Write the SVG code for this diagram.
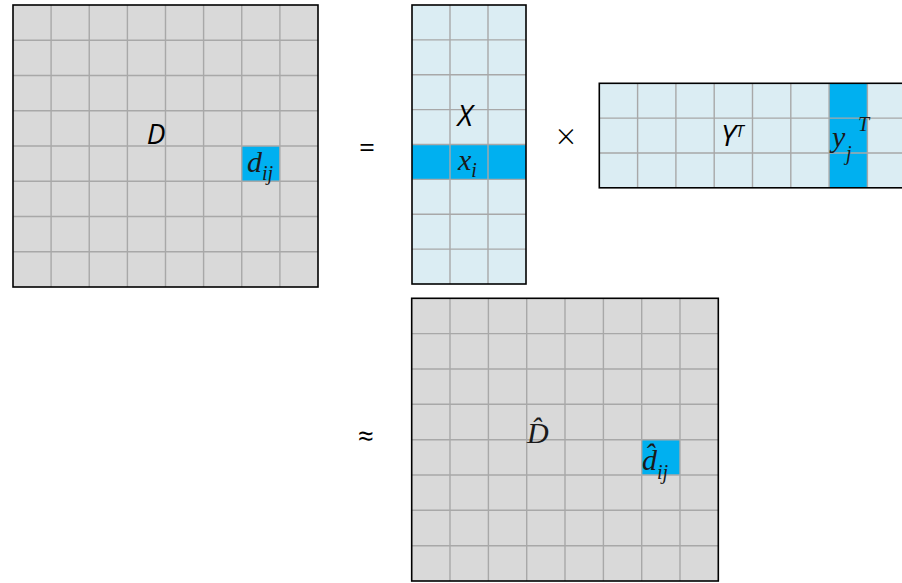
<svg xmlns="http://www.w3.org/2000/svg" width="902" height="583" viewBox="0 0 902 583">
<style>
.bg{fill:#d9d9d9}
.lb{fill:#dbedf3}
.hi{fill:#00b0f0}
.grid{fill:none;stroke:#a8a8a8;stroke-width:1.4}
.frame{fill:none;stroke:#000;stroke-width:1.6}
.lab{font-family:"Open Sans","Liberation Sans",sans-serif;font-style:italic;fill:#000}
.math{font-family:"Liberation Serif","DejaVu Serif",serif;font-style:italic;fill:#1a1a1a}
.op{font-family:"Open Sans","Liberation Sans",sans-serif;fill:#000;text-anchor:middle}
</style>
<rect x="0" y="0" width="902" height="583" fill="#fff"/>

<g id="matrix-D">
<rect class="bg" x="13" y="5" width="305" height="282"/>
<rect class="hi" x="241.75" y="146" width="38.15" height="35.25"/>
<path class="grid" d="M51.1 5V287M89.25 5V287M127.4 5V287M165.5 5V287M203.6 5V287M241.75 5V287M279.9 5V287M13 40.25H318M13 75.5H318M13 110.75H318M13 146H318M13 181.25H318M13 216.5H318M13 251.75H318"/>
<rect class="frame" x="13" y="5" width="305" height="282"/>
<text class="lab" x="156" y="144" font-size="28" text-anchor="middle">D</text>
<text class="math" x="247" y="172" font-size="30">d<tspan font-size="20" dy="8">ij</tspan></text>
</g>

<g id="op-equals"><text class="op" x="367" y="157" font-size="28">=</text></g>

<g id="matrix-X">
<rect class="lb" x="412" y="5" width="114" height="279"/>
<rect class="hi" x="412" y="144.5" width="114" height="34.9"/>
<path class="grid" d="M450 5V284M488 5V284M412 39.9H526M412 74.75H526M412 109.6H526M412 144.5H526M412 179.4H526M412 214.25H526M412 249.1H526"/>
<rect class="frame" x="412" y="5" width="114" height="279"/>
<text class="lab" x="465" y="126" font-size="29" text-anchor="middle">X</text>
<text class="math" x="458" y="170" font-size="30">x<tspan font-size="20" dy="7">i</tspan></text>
</g>

<g id="op-times"><text class="op" x="566" y="149" font-size="34" font-weight="300">×</text></g>

<g id="matrix-YT">
<rect class="lb" x="599.3" y="83.3" width="306.4" height="104.5"/>
<rect class="hi" x="829.1" y="83.3" width="38.3" height="104.5"/>
<path class="grid" d="M637.6 83.3V187.8M675.9 83.3V187.8M714.2 83.3V187.8M752.5 83.3V187.8M790.8 83.3V187.8M829.1 83.3V187.8M867.4 83.3V187.8M599.3 118.1H905.7M599.3 153H905.7"/>
<rect class="frame" x="599.3" y="83.3" width="306.4" height="104.5"/>
<text class="lab" x="721" y="146" font-size="29">Y<tspan font-size="16" dy="-9">T</tspan></text>
<text class="math" x="832" y="147" font-size="30">y</text>
<text class="math" x="846" y="160" font-size="20">j</text>
<text class="math" x="858" y="131" font-size="20">T</text>
</g>

<g id="op-approx"><text class="op" x="366" y="446" font-size="28">≈</text></g>

<g id="matrix-Dhat">
<rect class="bg" x="411.7" y="298.3" width="306.6" height="282.7"/>
<rect class="hi" x="641.7" y="439.7" width="38.3" height="35.3"/>
<path class="grid" d="M450 298.3V581M488.4 298.3V581M526.7 298.3V581M565 298.3V581M603.4 298.3V581M641.7 298.3V581M680 298.3V581M411.7 333.6H718.3M411.7 369H718.3M411.7 404.3H718.3M411.7 439.7H718.3M411.7 475H718.3M411.7 510.3H718.3M411.7 545.7H718.3"/>
<rect class="frame" x="411.7" y="298.3" width="306.6" height="282.7"/>
<text class="math" x="527" y="443" font-size="30">D̂</text>
<text class="math" x="642" y="470" font-size="30">d̂<tspan font-size="20" dy="9">ij</tspan></text>
</g>
</svg>
